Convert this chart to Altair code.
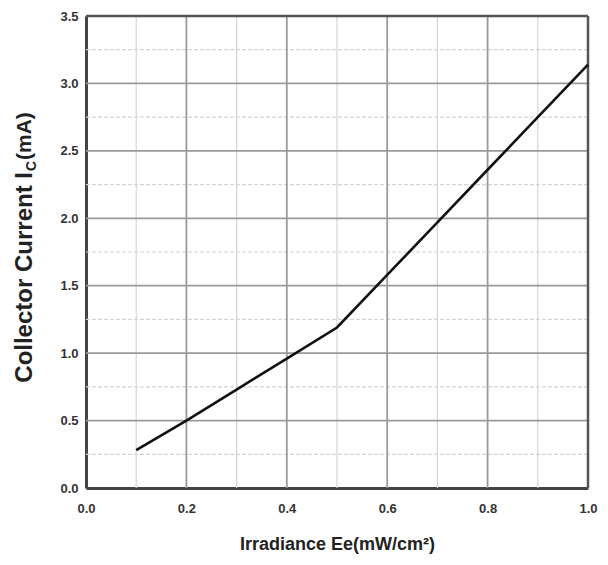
import altair as alt
import pandas as pd

# curve data
irradiance = [0.1, 0.2, 0.3, 0.4, 0.5, 0.6, 0.7, 0.8, 0.9, 1.0]
current = [0.28, 0.50, 0.73, 0.96, 1.19, 1.58, 1.97, 2.36, 2.75, 3.14]

# grid values
x_major = [0.2, 0.4, 0.6, 0.8]
x_minor = [0.1, 0.3, 0.5, 0.7, 0.9]
y_major = [0.5, 1.0, 1.5, 2.0, 2.5, 3.0]
y_minor = [0.25, 0.75, 1.25, 1.75, 2.25, 2.75, 3.25]
x_ticks = [0.0, 0.2, 0.4, 0.6, 0.8, 1.0]
y_ticks = [0.0, 0.5, 1.0, 1.5, 2.0, 2.5, 3.0, 3.5]

FONT = "Liberation Sans"

curve = pd.DataFrame({"x": irradiance, "y": current})

xs = alt.Scale(domain=[0, 1.0], nice=False, zero=False)
ys = alt.Scale(domain=[0, 3.5], nice=False, zero=False)

x_axis = alt.Axis(values=x_ticks, format=".1f", grid=False, ticks=False,
                  labelFont=FONT, labelFontWeight="bold", labelFontSize=13,
                  labelColor="#333", labelPadding=14, labelFlush=False,
                  domainColor="#444", domainWidth=3,
                  title="Irradiance Ee(mW/cm²)", titleFont=FONT,
                  titleFontWeight="bold", titleFontSize=18, titleColor="#222",
                  titlePadding=20)
y_axis = alt.Axis(values=y_ticks, format=".1f", grid=False, ticks=False,
                  labelFont=FONT, labelFontWeight="bold", labelFontSize=13,
                  labelColor="#333", labelPadding=8, labelFlush=False,
                  domainColor="#444", domainWidth=3, title=None)

def vrules(vals, color, width, dash=None):
    m = alt.Chart(pd.DataFrame({"v": vals})).mark_rule(
        color=color, strokeWidth=width, **({"strokeDash": dash} if dash else {}))
    return m.encode(x=alt.X("v:Q", scale=xs, axis=x_axis))

def hrules(vals, color, width, dash=None):
    m = alt.Chart(pd.DataFrame({"v": vals})).mark_rule(
        color=color, strokeWidth=width, **({"strokeDash": dash} if dash else {}))
    return m.encode(y=alt.Y("v:Q", scale=ys, axis=y_axis))

minor_x = vrules(x_minor, "#d4d4d4", 1.2)
minor_y = hrules(y_minor, "#d4d4d4", 1.2, [4, 2])
major_x = vrules(x_major, "#9a9a9a", 1.8)
major_y = hrules(y_major, "#9a9a9a", 1.8)
top_border = hrules([3.5], "#555", 2.5)
right_border = vrules([1.0], "#555", 2.5)

line = alt.Chart(curve).mark_line(color="#111", strokeWidth=2.6).encode(
    x=alt.X("x:Q", scale=xs, axis=x_axis),
    y=alt.Y("y:Q", scale=ys, axis=y_axis),
)

def ttext(txt, size, align, dx, dy):
    return alt.Chart(pd.DataFrame({"t": [txt]})).mark_text(
        angle=270, align=align, baseline="middle", font=FONT,
        fontWeight="bold", fontSize=size, color="#222", dx=dx, dy=dy
    ).encode(text="t:N", x=alt.value(-61), y=alt.value(156))

yt1 = ttext("Collector Current I", 24, "right", 0, 0)
yt2 = ttext("C", 14, "left", 1, 7)
yt3 = ttext("(mA)", 21, "left", 12, 0)

chart = alt.layer(minor_x, minor_y, major_x, major_y, top_border, right_border,
                  line, yt1, yt2, yt3).properties(
    width=502, height=472,
    autosize=alt.AutoSizeParams(type="none"),
    padding={"left": 78, "top": 8, "right": 12, "bottom": 69},
).configure_view(stroke=None)

chart.save("out.html", embed_options={"renderer": "svg", "actions": False})
